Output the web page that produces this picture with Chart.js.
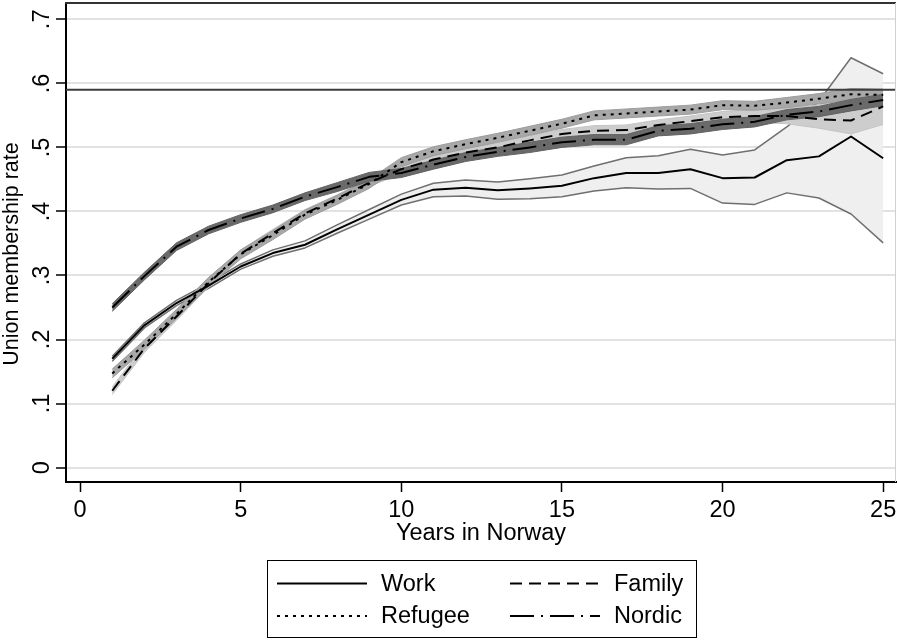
<!DOCTYPE html>
<html><head><meta charset="utf-8">
<script src="https://cdn.jsdelivr.net/npm/chart.js@4.4.0/dist/chart.umd.min.js"></script>
<style>html,body{margin:0;padding:0;background:#fff;}#wrap{width:897px;height:641px;}</style>
</head><body><div id="wrap"><canvas id="c" width="897" height="641"></canvas></div>
<script>
const years = [1,2,3,4,5,6,7,8,9,10,11,12,13,14,15,16,17,18,19,20,21,22,23,24,25];

const workMean = [.170,.222,.257,.284,.314,.335,.348,.372,.395,.418,.434,.437,.433,.436,.440,.452,.460,.460,.466,.452,.453,.480,.486,.517,.483];
const workLo   = [.166,.218,.253,.280,.310,.330,.343,.366,.388,.410,.423,.424,.419,.420,.423,.432,.437,.435,.436,.413,.411,.429,.421,.396,.351];
const workHi   = [.174,.226,.261,.288,.318,.340,.354,.379,.403,.427,.444,.449,.446,.451,.457,.471,.484,.487,.497,.488,.496,.532,.572,.640,.615];

const refugeeMean = [.147,.192,.240,.290,.333,.363,.395,.418,.443,.477,.494,.505,.515,.526,.537,.550,.553,.556,.559,.566,.565,.570,.576,.583,.582];
const refugeeLo   = [.140,.185,.233,.283,.326,.356,.388,.411,.436,.470,.487,.498,.508,.519,.530,.543,.546,.549,.552,.559,.558,.562,.568,.574,.573];
const refugeeHi   = [.154,.199,.247,.297,.340,.370,.402,.425,.450,.484,.501,.512,.522,.533,.544,.557,.560,.563,.566,.573,.572,.578,.584,.592,.591];

const familyMean = [.120,.186,.236,.288,.334,.366,.397,.420,.445,.466,.481,.492,.500,.511,.521,.526,.527,.535,.541,.547,.549,.549,.544,.542,.564];
const familyLo   = [.114,.180,.230,.282,.328,.360,.391,.414,.439,.459,.474,.485,.493,.504,.514,.518,.519,.527,.533,.538,.539,.537,.530,.521,.536];
const familyHi   = [.126,.192,.242,.294,.340,.372,.403,.426,.451,.473,.488,.499,.507,.518,.528,.534,.535,.543,.549,.556,.559,.562,.566,.584,.590];

const nordicMean = [.250,.299,.345,.371,.389,.404,.423,.438,.454,.460,.473,.485,.493,.500,.508,.512,.512,.526,.529,.536,.540,.551,.556,.566,.574];
const nordicLo   = [.244,.293,.339,.365,.383,.398,.417,.431,.447,.453,.466,.478,.486,.492,.500,.504,.504,.518,.521,.528,.532,.543,.548,.557,.565];
const nordicHi   = [.256,.305,.351,.377,.395,.410,.429,.445,.461,.467,.480,.492,.500,.508,.516,.520,.520,.534,.537,.544,.548,.559,.564,.575,.583];

const xTickValues = [0,5,10,15,20,25];
const xTickLabels = ['0','5','10','15','20','25'];
const yTickValues = [0,.1,.2,.3,.4,.5,.6,.7];
const yTickLabels = ['0','.1','.2','.3','.4','.5','.6','.7'];
const refLineValue = 0.59;
const xTitle = 'Years in Norway';
const yTitle = 'Union membership rate';
const seriesNames = ['Work','Refugee','Family','Nordic'];

const FONT = '"Liberation Sans", Arial, sans-serif';
const dashes = {Work: [], Refugee: [3,5], Family: [12,7], Nordic: [24,7,2,7]};
const pts = arr => years.map((x,i)=>({x:x, y:arr[i]}));

function band(lo, hi, fillCol, edgeCol, edgeW, ord){
  return [
    {label:'_lo', data:pts(lo), borderColor:edgeCol, borderWidth:edgeW, pointRadius:0, fill:false, order:ord, tension:0},
    {label:'_hi', data:pts(hi), borderColor:edgeCol, borderWidth:edgeW, pointRadius:0, fill:'-1', backgroundColor:fillCol, order:ord, tension:0}
  ];
}
function line(name, arr, ord){
  return {label:name, data:pts(arr), borderColor:'#000', borderWidth:2, borderDash:dashes[name], pointRadius:0, fill:false, order:ord, tension:0};
}

const datasets = [
  ...band(workLo, workHi, '#efefef', '#6f6f6f', 1.5, 13),
  ...band(familyLo, familyHi, '#cdcdcd', '#c4c4c4', 1, 12),
  ...band(refugeeLo, refugeeHi, '#a8a8a8', '#9c9c9c', 1, 11),
  ...band(nordicLo, nordicHi, '#6a6a6a', '#626262', 1, 10),
  line('Work', workMean, 4),
  line('Refugee', refugeeMean, 3),
  line('Family', familyMean, 2),
  line('Nordic', nordicMean, 1)
];

const decor = {
  id:'decor',
  afterDatasetsDraw(chart){
    const ctx = chart.ctx, a = chart.chartArea, ys = chart.scales.y;
    const yy = ys.getPixelForValue(refLineValue);
    ctx.save();
    ctx.strokeStyle = '#3c3c3c'; ctx.lineWidth = 2;
    ctx.beginPath(); ctx.moveTo(a.left, yy); ctx.lineTo(a.right, yy); ctx.stroke();
    ctx.strokeStyle = '#333'; ctx.lineWidth = 2;
    ctx.beginPath(); ctx.moveTo(a.left-1, a.top); ctx.lineTo(a.right, a.top); ctx.stroke();
    ctx.strokeStyle = '#d0d0d0'; ctx.lineWidth = 1;
    ctx.beginPath(); ctx.moveTo(a.right-0.5, a.top); ctx.lineTo(a.right-0.5, a.bottom); ctx.stroke();
    ctx.restore();
  },
  afterDraw(chart){
    const ctx = chart.ctx, a = chart.chartArea, xs = chart.scales.x, ys = chart.scales.y;
    ctx.save();
    ctx.fillStyle = '#000';
    ctx.font = '23.5px ' + FONT;
    ctx.textAlign = 'center'; ctx.textBaseline = 'middle';
    xTickValues.forEach((v,i)=>{ ctx.fillText(xTickLabels[i], xs.getPixelForValue(v), a.bottom + 29); });
    ctx.fillText(xTitle, (a.left + a.right)/2, a.bottom + 52);
    yTickValues.forEach((v,i)=>{
      ctx.save(); ctx.translate(a.left - 17, ys.getPixelForValue(v)); ctx.rotate(-Math.PI/2);
      ctx.textBaseline = 'alphabetic'; ctx.fillText(yTickLabels[i], 0, 0); ctx.restore();
    });
    ctx.save(); ctx.font = '21.5px ' + FONT; ctx.translate(18, 254); ctx.rotate(-Math.PI/2);
    ctx.textBaseline = 'alphabetic'; ctx.fillText(yTitle, 0, 0); ctx.restore();
    const L = {x:267.5, y:560.5, w:429, h:77};
    ctx.strokeStyle = '#000'; ctx.lineWidth = 1;
    ctx.strokeRect(L.x, L.y, L.w, L.h);
    const slots = [
      {name:seriesNames[0], sx:277, tx:381, y:583.5},
      {name:seriesNames[2], sx:510, tx:614, y:583.5},
      {name:seriesNames[1], sx:277, tx:381, y:616},
      {name:seriesNames[3], sx:510, tx:614, y:616}
    ];
    ctx.font = '23.5px ' + FONT; ctx.textAlign = 'left'; ctx.textBaseline = 'middle';
    slots.forEach(s=>{
      ctx.save(); ctx.strokeStyle = '#000'; ctx.lineWidth = 2; ctx.setLineDash(dashes[s.name]);
      ctx.beginPath(); ctx.moveTo(s.sx, s.y); ctx.lineTo(s.sx + 90, s.y); ctx.stroke(); ctx.restore();
      ctx.fillText(s.name, s.tx, s.y + 1);
    });
    ctx.restore();
  }
};

new Chart(document.getElementById('c'), {
  type:'line',
  data:{datasets:datasets},
  options:{
    responsive:false, animation:false, devicePixelRatio:1,
    layout:{padding:{top:3, right:1, left:0, bottom:0}},
    plugins:{legend:{display:false}, tooltip:{enabled:false}, filler:{propagate:false}},
    elements:{line:{borderJoinStyle:'round'}},
    scales:{
      x:{type:'linear', min:-0.44, max:25.4,
        afterBuildTicks:s=>{ s.ticks = xTickValues.map(v=>({value:v})); },
        afterFit:s=>{ s.height = 159; },
        ticks:{display:false},
        grid:{drawOnChartArea:false, drawTicks:true, tickLength:10, tickColor:'#000', tickWidth:1.5},
        border:{display:true, color:'#000', width:2}},
      y:{type:'linear', min:-0.0225, max:0.7255,
        afterBuildTicks:s=>{ s.ticks = yTickValues.map(v=>({value:v})); },
        afterFit:s=>{ s.width = 66; },
        ticks:{display:false},
        grid:{color:'#e2e2e2', lineWidth:2, drawTicks:true, tickLength:10, tickColor:'#000', tickWidth:1.5},
        border:{display:true, color:'#000', width:2}}
    }
  },
  plugins:[decor]
});
</script></body></html>
